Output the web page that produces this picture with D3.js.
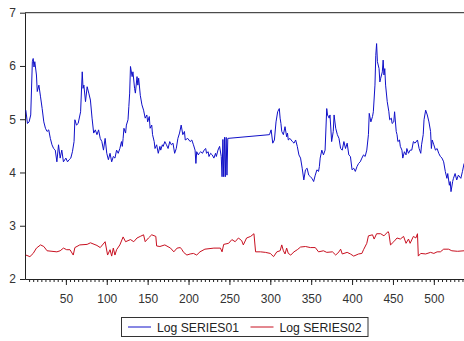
<!DOCTYPE html>
<html>
<head>
<meta charset="utf-8">
<script src="https://cdn.jsdelivr.net/npm/d3@7"></script>
<style>
  body { margin: 0; background: #fff; }
  svg { display: block; font-family: "Liberation Sans", Arial, sans-serif; }
  .axis text { font-size: 12px; fill: #333; }
  .axis path, .axis line { stroke: #222; }
</style>
</head>
<body>
<svg id="chart" width="464" height="341"></svg>
<script>
var obs01 = [1,3,5,7,9,10,11,12,14,15,17,19,21,23,25,27,29,31,33,35,37,39,41,43,45,47,50,52,54,56,58,60,61,63,65,68,70,71,72,74,76,78,80,82,84,86,88,90,92,94,96,98,100,102,104,106,108,110,112,114,116,118,119,120,121,123,124,126,127,128,129,131,132,134,135,137,138,139,141,143,145,147,149,150,152,153,155,156,158,159,161,163,165,166,168,169,171,173,175,177,179,181,183,185,187,189,191,193,195,196,199,202,204,206,208,209,210,212,213,215,217,219,221,222,224,225,227,229,231,233,234,236,238,240,241,242,243,244,245,246,247,248,299,301,303,305,307,309,311,312,313,314,316,318,320,321,322,324,327,329,331,333,335,337,339,341,343,345,347,349,351,353,355,357,359,360,361,363,365,367,369,370,372,373,375,377,378,380,382,384,386,388,390,392,394,396,398,400,402,404,406,408,410,412,414,416,418,420,421,423,425,426,428,429,430,431,433,434,435,437,438,439,440,441,443,445,446,448,449,451,452,454,455,456,458,459,461,462,464,466,467,469,471,473,475,477,480,482,484,485,487,488,490,492,494,496,497,498,500,502,504,506,508,510,512,514,516,517,519,520,521,523,524,526,528,530,533,535,537];
var series01 = [5.17,4.92,4.95,5.08,6.08,6.14,5.98,6.08,5.83,5.52,5.64,5.42,5.20,4.95,4.83,4.77,4.80,4.64,4.52,4.45,4.42,4.20,4.52,4.27,4.42,4.20,4.27,4.20,4.24,4.27,4.39,4.58,4.99,4.89,4.92,5.14,5.89,5.58,5.64,5.33,5.61,5.49,5.36,5.02,4.74,4.80,4.71,4.80,4.64,4.58,4.42,4.64,4.36,4.24,4.36,4.20,4.30,4.27,4.42,4.36,4.45,4.58,4.49,4.64,4.83,4.74,4.89,4.99,5.24,5.49,5.99,5.80,5.89,5.58,5.49,5.80,5.64,5.77,5.45,5.27,5.17,5.02,5.08,4.95,5.05,4.83,4.89,4.71,4.58,4.45,4.52,4.36,4.49,4.42,4.52,4.49,4.58,4.52,4.45,4.58,4.52,4.55,4.36,4.45,4.64,4.74,4.89,4.71,4.77,4.61,4.64,4.58,4.61,4.52,4.42,4.17,4.39,4.33,4.36,4.39,4.36,4.42,4.45,4.36,4.39,4.30,4.36,4.33,4.27,4.36,4.30,4.42,4.49,4.30,3.92,4.62,3.92,4.66,3.92,4.66,3.95,4.64,4.71,4.80,4.55,4.61,4.95,5.14,5.20,5.02,4.92,4.77,4.71,4.86,4.67,4.74,4.61,4.64,4.58,4.55,4.61,4.49,4.33,4.27,4.08,3.86,4.05,4.08,3.95,3.92,3.89,3.83,3.95,4.05,4.02,4.11,4.27,4.42,4.33,4.42,5.20,5.08,5.02,5.08,4.58,4.77,5.08,4.83,4.71,4.64,4.45,4.42,4.58,4.45,4.55,4.33,4.30,4.05,4.08,4.02,4.11,4.17,4.20,4.27,4.33,4.30,4.42,4.71,5.11,4.95,5.05,5.14,5.64,6.20,6.42,6.08,5.95,5.70,5.77,5.89,6.11,5.83,5.95,5.64,5.33,5.14,4.99,5.02,4.92,4.95,5.14,4.77,4.71,4.58,4.61,4.49,4.42,4.27,4.39,4.33,4.45,4.36,4.42,4.42,4.58,4.55,4.61,4.45,4.36,4.52,4.71,4.99,5.17,5.08,4.95,4.77,4.45,4.61,4.52,4.42,4.45,4.36,4.30,4.27,4.20,4.02,3.89,3.98,3.76,3.83,3.64,3.83,3.89,3.98,3.86,3.95,3.89,4.02,4.17];

var obs02 = [1,6,10,14,19,23,27,33,39,43,47,51,55,59,61,67,76,80,88,92,98,101,104,106,108,110,112,116,120,123,129,133,137,141,145,147,151,155,160,161,165,171,178,182,186,190,192,194,198,202,206,210,214,220,231,239,241,243,249,253,257,261,265,267,271,276,280,282,288,294,300,304,308,312,314,316,318,320,322,325,329,333,337,343,349,355,359,365,369,376,380,384,386,388,394,398,402,408,412,414,418,420,425,427,430,435,439,444,445,447,451,455,459,463,466,469,471,475,478,480,481,484,490,496,500,504,508,512,518,522,529,537];
var series02 = [2.45,2.42,2.48,2.58,2.64,2.61,2.53,2.52,2.51,2.53,2.58,2.55,2.55,2.45,2.59,2.64,2.65,2.68,2.63,2.59,2.70,2.45,2.55,2.43,2.58,2.45,2.55,2.64,2.79,2.70,2.74,2.70,2.77,2.80,2.83,2.70,2.77,2.83,2.80,2.62,2.61,2.64,2.58,2.51,2.58,2.59,2.55,2.50,2.45,2.47,2.48,2.45,2.51,2.56,2.58,2.58,2.51,2.65,2.67,2.74,2.70,2.77,2.72,2.64,2.77,2.80,2.85,2.51,2.51,2.50,2.48,2.42,2.51,2.53,2.64,2.53,2.47,2.58,2.48,2.45,2.51,2.55,2.60,2.61,2.59,2.59,2.51,2.53,2.50,2.51,2.45,2.51,2.56,2.47,2.50,2.47,2.43,2.47,2.48,2.55,2.67,2.81,2.83,2.75,2.85,2.85,2.81,2.89,2.86,2.64,2.70,2.77,2.75,2.80,2.67,2.75,2.67,2.80,2.77,2.85,2.43,2.48,2.47,2.50,2.48,2.51,2.51,2.56,2.56,2.53,2.52,2.53];

var yTicks = [2, 3, 4, 5, 6, 7];
var xTicks = [50, 100, 150, 200, 250, 300, 350, 400, 450, 500];
var seriesNames = ["Log SERIES01", "Log SERIES02"];
var seriesColors = ["#1010c8", "#c81020"];

var svg = d3.select("#chart");
var plot = {left: 25, right: 464.5, top: 12.7, bottom: 279};

var x = d3.scaleLinear().domain([0, 537.5]).range([plot.left, plot.right]);
var y = d3.scaleLinear().domain([2, 7]).range([plot.bottom, plot.top]);

// top frame line
svg.append("line")
    .attr("x1", plot.left).attr("x2", plot.right)
    .attr("y1", plot.top).attr("y2", plot.top)
    .attr("stroke", "#222");

// y axis
svg.append("g")
    .attr("class", "axis")
    .attr("transform", "translate(" + plot.left + ",0)")
    .call(d3.axisLeft(y).tickValues(yTicks).tickSize(5).tickSizeOuter(0).tickPadding(4).tickFormat(d3.format("d")));

// x axis, minor ticks first
svg.append("g")
    .attr("class", "axis")
    .attr("transform", "translate(0," + plot.bottom + ")")
    .call(d3.axisBottom(x).tickValues(d3.range(5, 537, 5)).tickSize(3).tickSizeOuter(0).tickFormat(""));

svg.append("g")
    .attr("class", "axis")
    .attr("transform", "translate(0," + plot.bottom + ")")
    .call(d3.axisBottom(x).tickValues(xTicks).tickSize(6).tickSizeOuter(0).tickPadding(9).tickFormat(d3.format("d")));

var line = d3.line()
    .x(function(d) { return x(d[0]); })
    .y(function(d) { return y(d[1]); });

var data01 = obs01.map(function(o, i) { return [o, series01[i]]; });
var data02 = obs02.map(function(o, i) { return [o, series02[i]]; });

[data01, data02].forEach(function(data, i) {
  svg.append("path")
      .datum(data)
      .attr("d", line)
      .attr("fill", "none")
      .attr("stroke", seriesColors[i])
      .attr("stroke-width", 1);
});

// legend
var legend = svg.append("g");
legend.append("rect")
    .attr("x", 121.5).attr("y", 317.5)
    .attr("width", 246.5).attr("height", 19)
    .attr("fill", "#fff")
    .attr("stroke", "#333");

var legendX = [128, 250.5];
seriesNames.forEach(function(name, i) {
  legend.append("line")
      .attr("x1", legendX[i]).attr("x2", legendX[i] + 23)
      .attr("y1", 327).attr("y2", 327)
      .attr("stroke", seriesColors[i]);
  legend.append("text")
      .attr("x", legendX[i] + 29)
      .attr("y", 331.5)
      .style("font-size", "12.2px")
      .style("fill", "#222")
      .text(name);
});
</script>
</body>
</html>
